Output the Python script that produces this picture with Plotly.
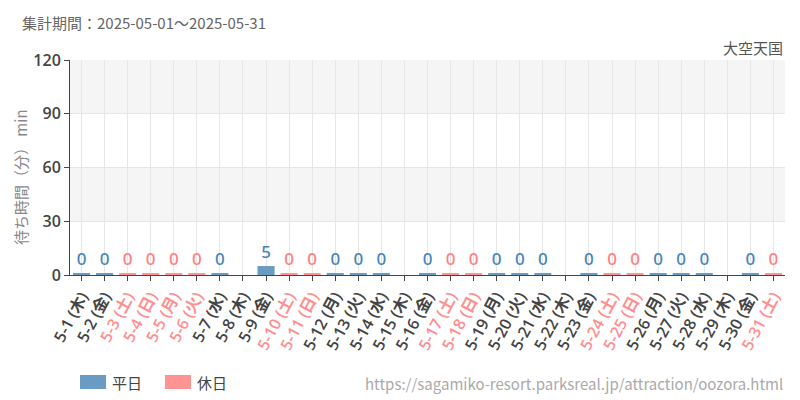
import plotly.graph_objects as go

# 2025-05 daily max wait (min), None = no data
days = [f"5-{d}" for d in range(1, 32)]
weekdays = ["木", "金", "土", "日", "月", "火", "水",
            "木", "金", "土", "日", "月", "火", "水",
            "木", "金", "土", "日", "月", "火", "水",
            "木", "金", "土", "日", "月", "火", "水",
            "木", "金", "土"]
holiday = [0, 0, 1, 1, 1, 1, 0,
           0, 0, 1, 1, 0, 0, 0,
           0, 0, 1, 1, 0, 0, 0,
           0, 0, 1, 1, 0, 0, 0,
           0, 0, 1]
waits = [0, 0, 0, 0, 0, 0, 0,
         None, 5, 0, 0, 0, 0, 0,
         None, 0, 0, 0, 0, 0, 0,
         None, 0, 0, 0, 0, 0, 0,
         None, 0, 0]

WEEKDAY_BAR = "#6a9bc3"
HOLIDAY_BAR = "#ff9393"
WEEKDAY_TXT = "#4a85b8"
HOLIDAY_TXT = "#ff8080"
MIN_BAR = 1.1  # like chart.js minBarLength
TICK_FONT = "Open Sans, Noto Sans CJK JP, sans-serif"

labels = [f"{d} ({w})" for d, w in zip(days, weekdays)]
ticktext = [f"<span style='color:{'#ff8f8f' if h else '#444'}'>{l}</span>"
            for l, h in zip(labels, holiday)]


def series(flag):
    ys, txt = [], []
    for v, h in zip(waits, holiday):
        if v is None or h != flag:
            ys.append(None)
            txt.append("")
        else:
            ys.append(max(v, MIN_BAR))
            txt.append(str(v))
    return ys, txt


fig = go.Figure()
for flag, bar_c, txt_c in [(0, WEEKDAY_BAR, WEEKDAY_TXT), (1, HOLIDAY_BAR, HOLIDAY_TXT)]:
    ys, txt = series(flag)
    fig.add_trace(go.Bar(
        x=labels, y=ys, text=txt, textposition="outside",
        textfont=dict(family="Noto Sans, sans-serif", size=17, weight=500, color=txt_c),
        marker=dict(color=bar_c, line=dict(width=0)),
        cliponaxis=False, showlegend=False, hoverinfo="skip",
    ))

# alternating background bands
for y0, y1 in [(30, 60), (90, 120)]:
    fig.add_shape(type="rect", xref="paper", yref="y", x0=0, x1=1, y0=y0, y1=y1,
                  fillcolor="#f5f5f5", line=dict(width=0), layer="below")

fig.update_layout(
    width=800, height=400,
    margin=dict(l=70, r=15, t=60, b=125),
    paper_bgcolor="white", plot_bgcolor="white",
    barmode="overlay", bargap=0.26,
    font=dict(family="Noto Sans CJK JP, sans-serif", color="#444"),
)
fig.update_xaxes(
    tickmode="array", tickvals=labels, ticktext=ticktext, tickangle=-62,
    tickfont=dict(size=16, weight=600, family=TICK_FONT),
    showgrid=True, gridcolor="#e6e6e6", gridwidth=1,
    showline=True, linecolor="#444", linewidth=1,
    ticks="outside", ticklen=5, tickcolor="#444",
)
fig.update_yaxes(
    range=[0, 120], dtick=30,
    tickfont=dict(size=16, weight=600, family=TICK_FONT, color="#444"),
    showgrid=True, gridcolor="#e6e6e6", zeroline=False,
    showline=True, linecolor="#444", linewidth=1,
    ticks="outside", ticklen=5, tickcolor="#444",
)

fig.add_annotation(text="待ち時間（分） min", xref="paper", yref="paper",
                   x=(20 - 70) / 715, y=(275 - 177) / 215, textangle=-90,
                   xanchor="center", yanchor="middle", showarrow=False,
                   font=dict(size=15, color="#888"))
fig.add_annotation(text="集計期間：2025-05-01～2025-05-31", xref="paper", yref="paper",
                   x=-0.07, y=(275 - 22) / 215, xanchor="left", yanchor="middle",
                   showarrow=False, font=dict(size=15, color="#666"))
fig.add_annotation(text="大空天国", xref="paper", yref="paper",
                   x=1.0, y=(275 - 47) / 215, xanchor="right", yanchor="middle",
                   showarrow=False, font=dict(size=15, color="#555"))
fig.add_annotation(text="https://sagamiko-resort.parksreal.jp/attraction/oozora.html",
                   xref="paper", yref="paper", x=1.0, y=(275 - 383) / 215,
                   xanchor="right", yanchor="middle",
                   showarrow=False, font=dict(size=15, color="#aaa"))

# legend drawn by hand (wider swatches than plotly's legend)
for i, (name, c) in enumerate([("平日", WEEKDAY_BAR), ("休日", HOLIDAY_BAR)]):
    x0 = 80 + i * 85
    fig.add_shape(type="rect", xref="paper", yref="paper",
                  x0=(x0 - 70) / 715, x1=(x0 + 26 - 70) / 715,
                  y0=(275 - 389) / 215, y1=(275 - 375) / 215,
                  fillcolor=c, line=dict(width=0))
    fig.add_annotation(text=name, xref="paper", yref="paper",
                       x=(x0 + 30 - 70) / 715, y=(275 - 382) / 215,
                       xanchor="left", yanchor="middle", showarrow=False,
                       font=dict(size=15, color="#444"))

fig.write_html("out.html", config={"displayModeBar": False},
               post_script="document.body.style.margin='0';")
